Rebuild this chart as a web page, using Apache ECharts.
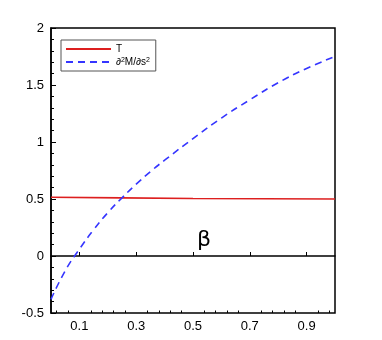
<!DOCTYPE html>
<html>
<head>
<meta charset="utf-8">
<script src="https://cdn.jsdelivr.net/npm/echarts@6/dist/echarts.min.js"></script>
<style>
  html, body { margin: 0; padding: 0; background: #fff; }
  #chart { width: 382px; height: 340px; }
</style>
</head>
<body>
<div id="chart"></div>
<script>
// beta values
var betaBlue = [0, 0.05, 0.1, 0.15, 0.2, 0.25, 0.3, 0.35, 0.4, 0.5, 0.6, 0.7, 0.8, 0.9, 1.0];
var d2M = [-0.38, -0.13, 0.06, 0.23, 0.38, 0.51, 0.63, 0.74, 0.84, 1.03, 1.21, 1.37, 1.52, 1.645, 1.75];
var betaRed = [0, 0.25, 0.5, 0.75, 1.0];
var T = [0.515, 0.51, 0.505, 0.502, 0.5];

var xLabels = [0.1, 0.3, 0.5, 0.7, 0.9];
var xMinorTicks = [0.02, 0.06, 0.14, 0.18, 0.22, 0.26, 0.34, 0.38, 0.42, 0.46,
  0.54, 0.58, 0.62, 0.66, 0.74, 0.78, 0.82, 0.86, 0.94, 0.98];

function pairs(xs, ys) {
  return xs.map(function (x, i) { return [x, ys[i]]; });
}

var chart = echarts.init(document.getElementById('chart'));
var font = 'Liberation Sans, Arial, sans-serif';

chart.setOption({
  animation: false,
  textStyle: { fontFamily: font },
  grid: {
    left: 51, right: 47, top: 28, bottom: 27,
    show: true, borderColor: '#000', borderWidth: 1.5, backgroundColor: 'transparent'
  },
  legend: {
    orient: 'vertical',
    left: 61, top: 40,
    padding: [4, 6, 4, 4],
    itemWidth: 45, itemHeight: 10, itemGap: 3,
    borderColor: '#555', borderWidth: 1,
    itemStyle: { opacity: 0 },
    textStyle: {
      fontSize: 10, color: '#000', fontFamily: font,
      rich: {
        sup: { fontSize: 7, verticalAlign: 'top', color: '#000' }
      }
    },
    formatter: function (name) {
      if (name === 'd2M') return '∂{sup|2}M/∂s{sup|2}';
      return name;
    },
    data: ['T', 'd2M']
  },
  xAxis: [{
    type: 'value',
    min: 0, max: 1,
    position: 'bottom',
    axisLine: { onZero: true, lineStyle: { color: '#000', width: 1.5 } },
    axisTick: { inside: true, length: 4, customValues: xLabels, lineStyle: { color: '#000' } },
    axisLabel: { customValues: xLabels, margin: 7, fontSize: 13, color: '#000', fontFamily: font },
    splitLine: { show: false }
  }, {
    type: 'value',
    min: 0, max: 1,
    position: 'bottom',
    axisLine: { show: false, onZero: true },
    axisTick: { inside: true, length: 2.5, customValues: xMinorTicks, lineStyle: { color: '#000' } },
    axisLabel: { show: false },
    splitLine: { show: false }
  }],
  yAxis: {
    type: 'value',
    min: -0.5, max: 2, interval: 0.5,
    axisLine: { show: true, onZero: false, lineStyle: { color: '#000', width: 1.5 } },
    axisTick: { inside: true, length: 5, lineStyle: { color: '#000' } },
    minorTick: { show: true, splitNumber: 5, length: 3, lineStyle: { color: '#000' } },
    axisLabel: { margin: 7, fontSize: 13, color: '#000', fontFamily: font },
    splitLine: { show: false }
  },
  graphic: [{
    type: 'text',
    left: 197, top: 229,
    style: { text: 'β', fontSize: 22, fill: '#000', fontFamily: 'DejaVu Sans, sans-serif' }
  }],
  series: [{
    name: 'T',
    type: 'line',
    symbol: 'none',
    data: pairs(betaRed, T),
    lineStyle: { color: '#dd1f1f', width: 1.6 },
    itemStyle: { color: '#dd1f1f' }
  }, {
    name: 'd2M',
    type: 'line',
    symbol: 'none',
    smooth: true,
    data: pairs(betaBlue, d2M),
    lineStyle: { color: '#3535ff', width: 1.6, type: [7, 5] },
    itemStyle: { color: '#3535ff' }
  }]
});
</script>
</body>
</html>
